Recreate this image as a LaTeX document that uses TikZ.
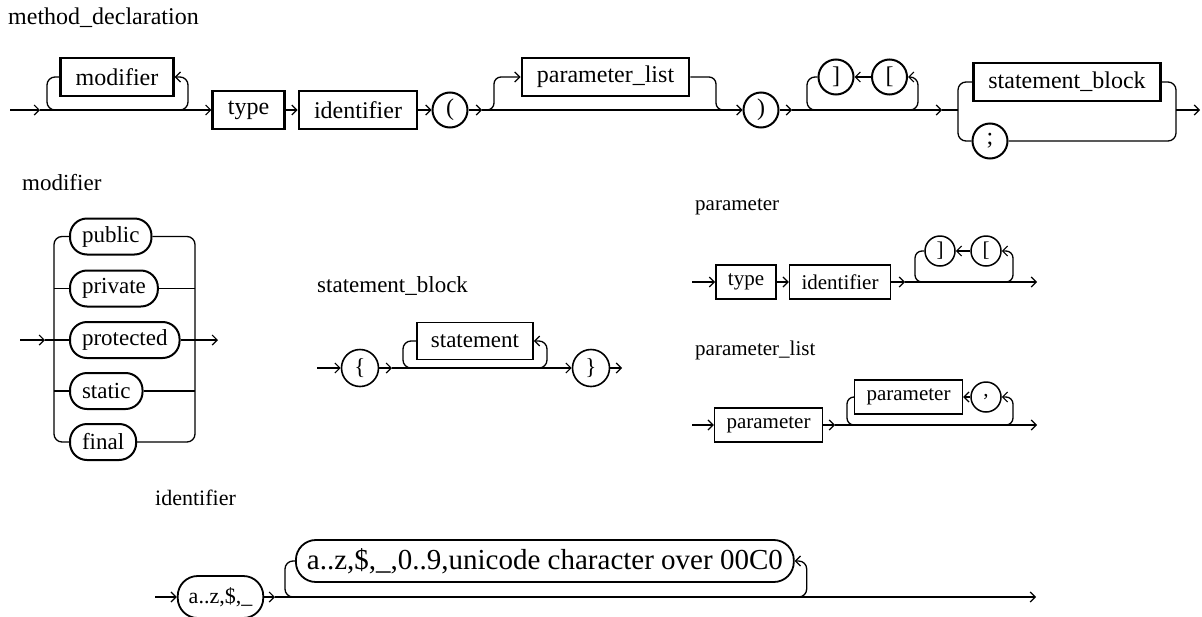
\documentclass[tikz,border=0pt]{standalone}
\usepackage{fontspec}
\setmainfont{Liberation Serif}
\usetikzlibrary{arrows.meta,calc}
\begin{document}
\begin{tikzpicture}[x=1pt,y=-1pt,
  ln/.style={line width=1.3pt},
  arr/.style={line width=1.3pt,-{Straight Barb[length=5pt,width=10pt,line width=1.2pt]}},
  fA/.style={font=\fontsize{24}{28}\selectfont},
  fB/.style={font=\fontsize{23}{27}\selectfont},
  fC/.style={font=\fontsize{21}{25}\selectfont},
  fD/.style={font=\fontsize{22}{26}\selectfont},
  fE/.style={font=\fontsize{29}{33}\selectfont},
  ttl/.style={anchor=base west,inner sep=0pt},
  ntA/.style={draw,fA,line width=2.7pt,minimum height=38pt,inner xsep=15pt,inner ysep=0pt},
  tmA/.style={draw,circle,fA,line width=2pt,minimum size=35pt,inner sep=0pt},
  altB/.style={draw,fB,line width=2pt,rounded corners=17pt,minimum height=36pt,inner xsep=12pt,inner ysep=0pt,anchor=west},
  ntB/.style={draw,fB,line width=1.6pt,minimum height=37pt,inner xsep=14pt,inner ysep=0pt},
  tmB/.style={draw,circle,fB,line width=1.6pt,minimum size=37pt,inner sep=0pt},
  ntC/.style={draw,fC,line width=1.5pt,minimum height=34pt,inner xsep=12pt,inner ysep=0pt},
  tmC/.style={draw,circle,fC,line width=1.5pt,minimum size=30pt,inner sep=0pt},
  altD/.style={draw,line width=1.8pt,rounded corners=20pt,minimum height=42pt,inner xsep=11pt,inner ysep=0pt}
]
\useasboundingbox (0,0) rectangle (1202,616);

% ---------------- method_declaration ----------------
\node[ttl,fA] (tMD) at (8,24) {method\_declaration};
\coordinate (m0) at (10,110);
\coordinate (m1) at (40,110);
\node[ntA] (mod) at (117,77) {modifier};
\node[ntA] (typ) at (248.5,110) {type};
\node[ntA] (idf) at (358,110) {identifier};
\node[tmA] (lp) at (450,110) {(};
\node[ntA] (pl) at (605.5,77) {parameter\_list};
\node[tmA] (rp) at (761,110) {)};
\node[tmA] (rb1) at (836,77) {]};
\node[tmA] (lb1) at (889.5,77) {[};
\node[ntA] (sb) at (1067,82) {statement\_block};
\node[tmA] (semi) at (990,141) {;};
\coordinate (mE) at (1200,110);

\draw[arr] (m0) -- (m1);
\draw[arr] (m1) -- (typ.west);
\draw[ln,rounded corners=8pt] (mod.west) -- (47,77) -- (47,110) -- (57,110);
\draw[arr,rounded corners=8pt] (178,110) -- (188,110) -- (188,77) -- (mod.east);
\draw[arr] (typ.east) -- (idf.west);
\draw[arr] (idf.east) -- (lp.west);
\draw[arr] (lp.east) -- (482,110);
\draw[arr] (482,110) -- (rp.west);
\draw[arr,rounded corners=7pt] (482,110) -- (494,110) -- (494,77) -- (pl.west);
\draw[ln,rounded corners=7pt] (pl.east) -- (716,77) -- (716,110) -- (728,110);
\draw[arr] (rp.east) -- (792,110);
\draw[arr] (792,110) -- (942,110);
\draw[ln] (942,110) -- (958,110);
\draw[ln,rounded corners=8pt] (rb1.west) -- (807,77) -- (807,110) -- (817,110);
\draw[arr,rounded corners=8pt] (908,110) -- (918,110) -- (918,77) -- (lb1.east);
\draw[arr] (lb1.west) -- (rb1.east);
\draw[ln,rounded corners=8pt] (sb.west) -- (958,82) -- (958,141) -- (semi.west);
\draw[ln,rounded corners=8pt] (sb.east) -- (1176,82) -- (1176,141) -- (semi.east);
\draw[arr] (1176,110) -- (mE);

% ---------------- modifier ----------------
\node[ttl,fB] (tMod) at (22,190) {modifier};
\node[altB] (pub) at (69,236.5) {public};
\node[altB] (pri) at (69,288.5) {private};
\node[altB] (pro) at (69,340) {protected};
\node[altB] (sta) at (69,391) {static};
\node[altB] (fin) at (69,442) {final};
\coordinate (q0) at (20,340);
\coordinate (q1) at (45,340);
\coordinate (qE) at (218,340);
\draw[arr] (q0) -- (q1);
\draw[ln] (q1) -- (pro.west);
\draw[ln,rounded corners=8pt] (pub.west) -- (54,236.5) -- (54,442) -- (fin.west);
\draw[ln] (54,288.5) -- (pri.west);
\draw[ln] (54,391) -- (sta.west);
\draw[ln,rounded corners=8pt] (pub.east) -- (195,236.5) -- (195,442) -- (fin.east);
\draw[ln] (pri.east) -- (195,288.5);
\draw[ln] (sta.east) -- (195,391);
\draw[arr] (pro.east) -- (qE);

% ---------------- statement_block ----------------
\node[ttl,fB] (tSB) at (317,292) {statement\_block};
\coordinate (s0) at (317,368);
\node[tmB] (lc) at (360,368) {\{};
\node[ntB] (stm) at (475,341) {statement};
\node[tmB] (rc) at (591,368) {\}};
\coordinate (s1) at (392,368);
\coordinate (sE) at (622,368);
\draw[arr] (s0) -- (lc.west);
\draw[arr] (lc.east) -- (s1);
\draw[arr] (s1) -- (rc.west);
\draw[ln,rounded corners=8pt] (stm.west) -- (403,341) -- (403,368) -- (413,368);
\draw[arr,rounded corners=8pt] (537,368) -- (547,368) -- (547,341) -- (stm.east);
\draw[arr] (rc.east) -- (sE);

% ---------------- parameter ----------------
\node[ttl,fC] (tP) at (695,210) {parameter};
\coordinate (p0) at (692,282);
\node[ntC] (ptyp) at (746,282) {type};
\node[ntC] (pidf) at (840,282) {identifier};
\node[tmC] (prb) at (940,251) {]};
\node[tmC] (plb) at (986,251) {[};
\coordinate (p1) at (905,282);
\coordinate (pE) at (1037,282);
\draw[arr] (p0) -- (ptyp.west);
\draw[arr] (ptyp.east) -- (pidf.west);
\draw[arr] (pidf.east) -- (p1);
\draw[arr] (p1) -- (pE);
\draw[ln,rounded corners=7pt] (prb.west) -- (915,251) -- (915,282) -- (924,282);
\draw[arr,rounded corners=7pt] (1004,282) -- (1013,282) -- (1013,251) -- (plb.east);
\draw[arr] (plb.west) -- (prb.east);

% ---------------- parameter_list ----------------
\node[ttl,fC] (tPL) at (695,355) {parameter\_list};
\coordinate (r0) at (692,425);
\node[ntC] (pp1) at (768.5,425) {parameter};
\node[ntC] (pp2) at (908.5,397) {parameter};
\node[tmC] (cm) at (986,397) {,};
\coordinate (r1) at (835,425);
\coordinate (rE) at (1037,425);
\draw[arr] (r0) -- (pp1.west);
\draw[arr] (pp1.east) -- (r1);
\draw[arr] (r1) -- (rE);
\draw[ln,rounded corners=7pt] (pp2.west) -- (847,397) -- (847,425) -- (856,425);
\draw[arr,rounded corners=7pt] (1004,425) -- (1013,425) -- (1013,397) -- (cm.east);
\draw[arr] (cm.west) -- (pp2.east);

% ---------------- identifier ----------------
\node[ttl,fD] (tId) at (155,505) {identifier};
\coordinate (i0) at (155,597);
\node[altD,fD] (id1) at (220.5,597) {a..z,\$,\_};
\node[altD,fE,anchor=west] (id2) at (295,561) {a..z,\$,\_,0..9,unicode character over 00C0};
\coordinate (i1) at (275,597);
\coordinate (iE) at (1036,597);
\coordinate (id2r) at ($(id2.east)+(12,0)$);
\draw[arr] (i0) -- (id1.west);
\draw[arr] (id1.east) -- (i1);
\draw[arr] (i1) -- (iE);
\draw[ln,rounded corners=8pt] (id2.west) -- (285,561) -- (285,597) -- (295,597);
\draw[arr,rounded corners=8pt] ($(id2r |- i1)+(-10,0)$) -- (id2r |- i1) -- (id2r) -- (id2.east);
\end{tikzpicture}
\end{document}
